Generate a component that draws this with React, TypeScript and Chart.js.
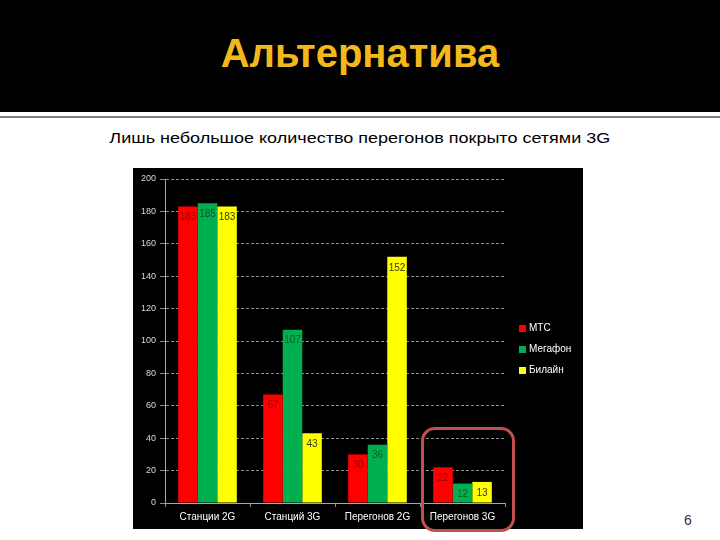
import React, { useEffect, useRef } from "react";
import { Chart, registerables } from "chart.js";

Chart.register(...registerables);

const categories = ["Станции 2G", "Станций 3G", "Перегонов 2G", "Перегонов 3G"];
const seriesNames = ["МТС", "Мегафон", "Билайн"];
const mtsValues = [183, 67, 30, 22];
const megafonValues = [185, 107, 36, 12];
const beelineValues = [183, 43, 152, 13];
const seriesColors = ["#ff0000", "#00b050", "#ffff00"];
const labelColors = ["#a00000", "#0b5a2a", "#3a3a10"];
const yMin = 0;
const yMax = 200;
const yStep = 20;

const FONT = "'Liberation Sans', Arial, sans-serif";

const valueLabelPlugin = {
  id: "valueLabels",
  afterDatasetsDraw(chart: any) {
    const ctx = chart.ctx;
    ctx.save();
    ctx.font = `10px ${FONT}`;
    ctx.textAlign = "center";
    ctx.textBaseline = "middle";
    chart.data.datasets.forEach((ds: any, i: number) => {
      const meta = chart.getDatasetMeta(i);
      meta.data.forEach((bar: any, j: number) => {
        ctx.fillStyle = labelColors[i];
        ctx.fillText(String(ds.data[j]), bar.x, bar.y + 11);
      });
    });
    ctx.restore();
  },
};

const legendPlugin = {
  id: "customLegend",
  afterDraw(chart: any) {
    const ctx = chart.ctx;
    const area = chart.chartArea;
    const x = area.right + 14;
    const cy = chart.height / 2 + 1;
    ctx.save();
    ctx.font = `10px ${FONT}`;
    ctx.textBaseline = "middle";
    ctx.textAlign = "left";
    chart.data.datasets.forEach((ds: any, i: number) => {
      const y = cy + (i - 1) * 21;
      ctx.fillStyle = ds.backgroundColor;
      ctx.fillRect(x, y - 3.5, 7, 7);
      ctx.fillStyle = "#ffffff";
      ctx.fillText(ds.label, x + 10, y);
    });
    ctx.restore();
  },
};

function BarChart() {
  const ref = useRef<HTMLCanvasElement | null>(null);
  useEffect(() => {
    if (!ref.current) return;
    const chart = new Chart(ref.current, {
      type: "bar",
      data: {
        labels: categories,
        datasets: [mtsValues, megafonValues, beelineValues].map((d, i) => ({
          label: seriesNames[i],
          data: d,
          backgroundColor: seriesColors[i],
          borderWidth: 0,
          categoryPercentage: 0.69,
          barPercentage: 1.0,
        })),
      },
      options: {
        responsive: false,
        animation: false,
        maintainAspectRatio: false,
        layout: { padding: { top: 11, right: 78, left: 0, bottom: 0 } },
        plugins: { legend: { display: false }, tooltip: { enabled: false } },
        scales: {
          x: {
            grid: {
              display: true,
              drawOnChartArea: false,
              drawTicks: true,
              tickLength: 4,
              color: "#8c8c8c",
            },
            border: { display: true, color: "#a6a6a6", width: 1 },
            ticks: {
              color: "#ffffff",
              font: { family: FONT, size: 10 },
              padding: 4,
              maxRotation: 0,
            },
            afterFit: (s: any) => {
              s.height = 26;
            },
          },
          y: {
            min: yMin,
            max: yMax,
            ticks: {
              stepSize: yStep,
              color: "#d9d9d9",
              font: { family: FONT, size: 9 },
              padding: 4,
            },
            grid: {
              color: "#8c8c8c",
              tickLength: 5,
              drawTicks: true,
              lineWidth: 1,
            },
            border: { display: true, color: "#a6a6a6", dash: [3, 2] },
            afterFit: (s: any) => {
              s.width = 32;
            },
          },
        },
      },
      plugins: [valueLabelPlugin, legendPlugin],
    } as any);
    return () => chart.destroy();
  }, []);
  return <canvas ref={ref} width={450} height={361} style={{ display: "block", background: "#000" }} />;
}

export default function App() {
  return (
    <div
      style={{
        position: "fixed",
        left: 0,
        top: 0,
        width: 720,
        height: 540,
        background: "#ffffff",
        overflow: "hidden",
        fontFamily: FONT,
      }}
    >
      <div style={{ position: "absolute", left: 0, top: 0, width: 720, height: 112, background: "#000" }} />
      <div
        style={{
          position: "absolute",
          left: 0,
          top: 116,
          width: 720,
          height: 2,
          background: "#7f7f7f",
        }}
      />
      <div
        style={{
          position: "absolute",
          left: 0,
          width: 720,
          top: 27,
          textAlign: "center",
          color: "#f3b81c",
          fontWeight: "bold",
          fontSize: 40,
          lineHeight: "52px",
          fontFamily: FONT,
        }}
      >
        Альтернатива
      </div>
      <div
        style={{
          position: "absolute",
          left: 0,
          width: 720,
          top: 128,
          textAlign: "center",
          color: "#000",
          fontSize: 15,
          lineHeight: "20px",
          fontFamily: FONT,
          transform: "scaleX(1.2)",
          transformOrigin: "361px 0",
        }}
      >
        Лишь небольшое количество перегонов покрыто сетями 3G
      </div>
      <div style={{ position: "absolute", left: 133, top: 168 }}>
        <BarChart />
      </div>
      <div
        style={{
          position: "absolute",
          left: 421,
          top: 427,
          width: 88,
          height: 99,
          border: "3px solid #c0504d",
          borderRadius: 14,
        }}
      />
      <div
        style={{
          position: "absolute",
          left: 684,
          top: 512,
          fontSize: 14,
          color: "#333",
          fontFamily: FONT,
        }}
      >
        6
      </div>
    </div>
  );
}
